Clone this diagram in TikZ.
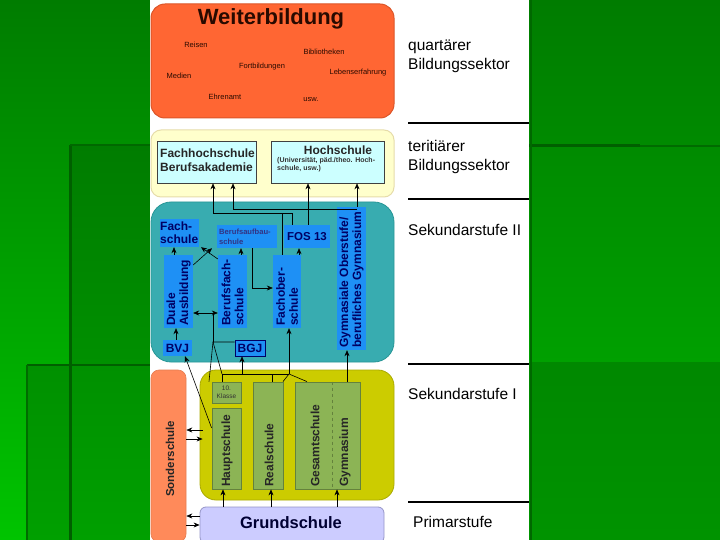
\documentclass[tikz,border=0pt]{standalone}
\usepackage{fontspec}
\setmainfont{Liberation Sans}
\usetikzlibrary{arrows.meta}
\definecolor{gA}{RGB}{0,124,0}
\definecolor{gB}{RGB}{0,196,0}
\definecolor{gC}{RGB}{0,160,0}
\definecolor{gDark}{RGB}{0,95,0}
\definecolor{wbfill}{RGB}{255,102,51}
\definecolor{wbdraw}{RGB}{220,85,40}
\definecolor{wbtext}{RGB}{40,10,0}
\definecolor{terfill}{RGB}{255,255,204}
\definecolor{terdraw}{RGB}{230,220,170}
\definecolor{cyanfill}{RGB}{204,255,255}
\definecolor{sektfill}{RGB}{56,172,176}
\definecolor{sektdraw}{RGB}{40,150,150}
\definecolor{boxblue}{RGB}{30,144,245}
\definecolor{navy}{RGB}{0,0,100}
\definecolor{sonfill}{RGB}{255,138,90}
\definecolor{sekefill}{RGB}{204,204,0}
\definecolor{sekedraw}{RGB}{170,170,0}
\definecolor{boxgreen}{RGB}{140,180,85}
\definecolor{greenborder}{RGB}{100,130,60}
\definecolor{grfill}{RGB}{204,204,255}
\definecolor{grdraw}{RGB}{150,150,200}
\begin{document}
\begin{tikzpicture}[x=1pt,y=-1pt,
  conn/.style={draw=black, line width=0.6pt},
  arr/.style={conn,-{Stealth[length=6pt,width=5pt]}},
  bluebox/.style={fill=boxblue, draw=none, inner sep=0pt},
  greenbox/.style={fill=boxgreen, draw=greenborder, line width=0.8pt, inner sep=0pt},
  bluetxt/.style={text=navy, font=\bfseries\fontsize{12}{13}\selectfont, inner sep=0pt},
  rottxt/.style={bluetxt, rotate=90, align=left, anchor=west},
  greentxt/.style={text=black!85, font=\bfseries\fontsize{12}{13}\selectfont, inner sep=0pt, rotate=90, anchor=west},
  smalltxt/.style={text=wbtext, font=\fontsize{7.5}{8}\selectfont, inner sep=0pt},
  sidetxt/.style={font=\fontsize{15.5}{19}\selectfont, align=left, anchor=west, inner sep=0pt},
  sideline/.style={line width=2pt, black}
]
\useasboundingbox (0,0) rectangle (720,540);
% ---------- background ----------
\shade[top color=gA, bottom color=gB] (0,0) rectangle (150,540);
\shade[top color=gA, bottom color=gC] (70,145) rectangle (150,540);
\shade[top color=gC!90!black, bottom color=gC] (27,365) rectangle (150,540);
\draw[line width=3pt, gDark] (70,145) -- (70,540);
\draw[line width=1.2pt, gDark!70!gA] (70,145) -- (150,145);
\draw[line width=2pt, gDark] (27,365) -- (150,365);
\draw[line width=2pt, gDark!80!gC] (27,365) -- (27,540);
\fill[white] (150,0) rectangle (529,540);
\shade[top color=gA, bottom color=gC] (529,0) rectangle (720,362);
\shade[top color=gC!85!black, bottom color=gC!92!black] (529,362) rectangle (720,540);
\draw[line width=3pt, gDark] (529,146) -- (640,146);
\draw[line width=2pt, gDark!60!gA] (640,146) -- (720,146);
\draw[line width=2.5pt, gDark!70!gA] (531,0) -- (531,540);
% ---------- side labels ----------
\node[sidetxt] (lq) at (408,56) {quartärer\\Bildungssektor};
\node[sidetxt] (lt) at (408,157) {teritiärer\\Bildungssektor};
\node[sidetxt] (ls2) at (408,230) {Sekundarstufe II};
\node[sidetxt] (ls1) at (408,394) {Sekundarstufe I};
\node[sidetxt] (lp) at (413,522) {Primarstufe};
\draw[sideline] (408,123) -- (529,123);
\draw[sideline] (408,199) -- (529,199);
\draw[line width=1.5pt] (408,364) -- (529,364);
\draw[sideline] (408,502) -- (529,502);
% ---------- Weiterbildung ----------
\node[fill=wbfill, draw=wbdraw, line width=1pt, rounded corners=14pt, minimum width=243pt, minimum height=114pt, inner sep=0pt] (wb) at (272.5,61) {};
\node[text=wbtext, font=\bfseries\fontsize{22}{24}\selectfont, inner sep=0pt] (wbt) at (271,19) {Weiterbildung};
\node[smalltxt] (w1) at (196,45) {Reisen};
\node[smalltxt] (w2) at (324,52) {Bibliotheken};
\node[smalltxt] (w3) at (262,67) {Fortbildungen};
\node[smalltxt] (w4) at (179,76) {Medien};
\node[smalltxt] (w5) at (358,73) {Lebenserfahrung};
\node[smalltxt] (w6) at (225,97) {Ehrenamt};
\node[smalltxt] (w7) at (311,100) {usw.};
% ---------- tertiary ----------
\node[fill=terfill, draw=terdraw, line width=1pt, rounded corners=10pt, minimum width=243pt, minimum height=67pt, inner sep=0pt] (ter) at (272.5,163.5) {};
\node[fill=cyanfill, draw=black!75, line width=0.6pt, minimum width=99pt, minimum height=42pt, inner sep=0pt] (fh) at (206.5,162) {};
\node[anchor=west, align=left, font=\bfseries\fontsize{12}{14}\selectfont, text=black!85, inner sep=0pt] (fht) at (160,160) {Fachhochschule\\Berufsakademie};
\node[fill=cyanfill, draw=black!75, line width=0.6pt, minimum width=113pt, minimum height=42pt, inner sep=0pt] (hs) at (327.5,162) {};
\node[font=\bfseries\fontsize{12}{14}\selectfont, text=black!85, inner sep=0pt] (hst) at (338,150) {Hochschule};
\node[anchor=north west, align=left, font=\bfseries\fontsize{7}{8.5}\selectfont, text=black!80, inner sep=0pt] (hsu) at (277,157) {(Universität, päd./theo. Hoch-\\schule, usw.)};
% ---------- Sekundarstufe II ----------
\node[fill=sektfill, draw=sektdraw, line width=0.8pt, rounded corners=20pt, minimum width=243pt, minimum height=160pt, inner sep=0pt] (sek2) at (272.5,282) {};
\node[bluebox, minimum width=39pt, minimum height=28pt] (fs) at (179.5,233) {};
\node[bluetxt, anchor=west, align=left] (fst) at (160,233) {Fach-\\schule};
\node[bluebox, minimum width=60pt, minimum height=23pt] (bas) at (247,236.5) {};
\node[bluetxt, anchor=west, align=left, font=\bfseries\fontsize{7.6}{10}\selectfont, text=navy!80] (bast) at (219,236.5) {Berufsaufbau-\\schule};
\node[bluebox, minimum width=46pt, minimum height=23pt] (fos) at (307,236.5) {};
\node[bluetxt, font=\bfseries\fontsize{11.5}{13}\selectfont] (fost) at (307,236.5) {FOS 13};
\node[bluebox, minimum width=29pt, minimum height=143pt] (gym2) at (351.5,278.5) {};
\node[rottxt] (gym2t) at (351.5,348) {Gymnasiale Oberstufe/\\berufliches Gymnasium};
\node[bluebox, minimum width=29pt, minimum height=73pt] (dual) at (178.5,291.5) {};
\node[rottxt] (dualt) at (178.5,326) {Duale\\Ausbildung};
\node[bluebox, minimum width=29pt, minimum height=73pt] (bfs) at (232.5,291.5) {};
\node[rottxt] (bfst) at (232.5,326) {Berufsfach-\\schule};
\node[bluebox, minimum width=28pt, minimum height=73pt] (fobs) at (287,291.5) {};
\node[rottxt] (fobst) at (287,326) {Fachober-\\schule};
\node[bluebox, minimum width=29pt, minimum height=16pt] (bvj) at (177.5,348) {};
\node[bluetxt] (bvjt) at (177.5,348) {BVJ};
\node[bluebox, draw=navy, line width=0.6pt, minimum width=30pt, minimum height=16pt] (bgj) at (250,348) {};
\node[bluetxt] (bgjt) at (250,348) {BGJ};
% ---------- Sonderschule ----------
\node[fill=sonfill, draw=sonfill!90!black, line width=0.6pt, rounded corners=8pt, minimum width=35pt, minimum height=172pt, inner sep=0pt] (sond) at (168.5,456) {};
\node[greentxt, font=\bfseries\fontsize{11.5}{13}\selectfont] (sondt) at (170,497) {Sonderschule};
% ---------- Sekundarstufe I ----------
\node[fill=sekefill, draw=sekedraw, line width=0.8pt, rounded corners=16pt, minimum width=194pt, minimum height=130pt, inner sep=0pt] (sek1) at (297,435) {};
\node[greenbox, minimum width=29pt, minimum height=21pt] (k10) at (226.5,392.5) {};
\node[align=center, font=\fontsize{6.5}{7.5}\selectfont, text=black!80, inner sep=0pt] (k10t) at (226.5,392.5) {10.\\Klasse};
\node[greenbox, minimum width=29pt, minimum height=81pt] (hau) at (226.5,448.5) {};
\node[greentxt] (haut) at (227,487) {Hauptschule};
\node[greenbox, minimum width=30pt, minimum height=107pt] (real) at (268,435.5) {};
\node[greentxt] (realt) at (269,487) {Realschule};
\node[greenbox, minimum width=65pt, minimum height=107pt] (ges) at (327.5,435.5) {};
\draw[dashed, greenborder, line width=0.6pt] (332,0 |- ges.north) -- (332,0 |- ges.south);
\node[greentxt] (gest) at (315,487) {Gesamtschule};
\node[greentxt] (gymt) at (345,487) {Gymnasium};
% ---------- Grundschule ----------
\node[fill=grfill, draw=grdraw, line width=0.8pt, rounded corners=6pt, minimum width=184pt, minimum height=36pt, inner sep=0pt] (grund) at (292,525) {};
\node[font=\bfseries\fontsize{16.5}{18}\selectfont, text=black!80!blue, inner sep=0pt] (grundt) at (291,523) {Grundschule};
% ---------- connectors ----------
% Grundschule -> Sek I
\draw[arr] (223,0 |- grund.north) -- (223,0 |- hau.south);
\draw[arr] (271,0 |- grund.north) -- (271,0 |- real.south);
\draw[arr] (337,0 |- grund.north) -- (337,0 |- ges.south);
% Sonderschule <-> Grundschule / Sek I
\draw[arr] (grund.west |- 0,516) -- (sond.east |- 0,516);
\draw[arr] (sond.east |- 0,525) -- (grund.west |- 0,525);
\draw[arr] ([xshift=3pt]sek1.west |- 0,430) -- (sond.east |- 0,430);
\draw[arr] (sond.east |- 0,439) -- ([xshift=3pt]sek1.west |- 0,439);
% Sek I -> Sek II
\coordinate (j1) at (222,374);
\coordinate (j2) at (289,374);
\coordinate (j3) at (213,342);
\draw[conn] (222,0 |- k10.north) -- (j1) -- (j2);
\draw[conn] (272,0 |- real.north) -- (272,0 |- j1);
\draw[conn] (283,0 |- real.north) -- (j2) -- (307,0 |- ges.north);
\draw[arr] (j2) -- (289,0 |- fobs.south);
\draw[arr] (242,0 |- j1) -- (242,0 |- bgj.south);
\draw[arr] (347,0 |- ges.north) -- (347,0 |- gym2.south);
\draw[arr] (hau.west |- 0,428) -- (185,0 |- bvj.south);
\draw[conn] (j1) -- (j3) -- (bgj.west |- j3);
\draw[conn] (209,0 |- k10.north) -- (j3);
\draw[conn] (j3) -- (213,313);
\draw[arr] (213,313) -- (dual.east |- 0,313);
\draw[arr] (213,313) -- (bfs.west |- 0,313);
% within Sek II
\draw[arr] (176,0 |- bvj.north) -- (176,0 |- dual.south);
\draw[arr] (174,0 |- dual.north) -- (174,0 |- fs.south);
\draw[arr] (dual.east |- 0,265) -- (212,0 |- bas.south);
\draw[arr] (bfs.west |- 0,259) -- (201,0 |- fs.south);
\draw[arr] (241,0 |- bfs.north) -- (241,0 |- bas.south);
\draw[arr] (252,0 |- bas.south) -- (252,288) -- (fobs.west |- 0,288);
\draw[arr] (299,0 |- fobs.north) -- (299,0 |- fos.south);
% Sek II -> tertiary
\draw[arr] (282,0 |- fobs.north) -- (282,213) -- (213,213) -- (213,0 |- fh.south);
\draw[conn] (292,0 |- fos.north) -- (292,213) -- (282,213);
\draw[arr] (308,0 |- fos.north) -- (308,0 |- hs.south);
\draw[arr] (357,0 |- gym2.north) -- (357,0 |- hs.south);
\draw[arr] (357,209) -- (233,209) -- (233,0 |- fh.south);
\end{tikzpicture}
\end{document}
